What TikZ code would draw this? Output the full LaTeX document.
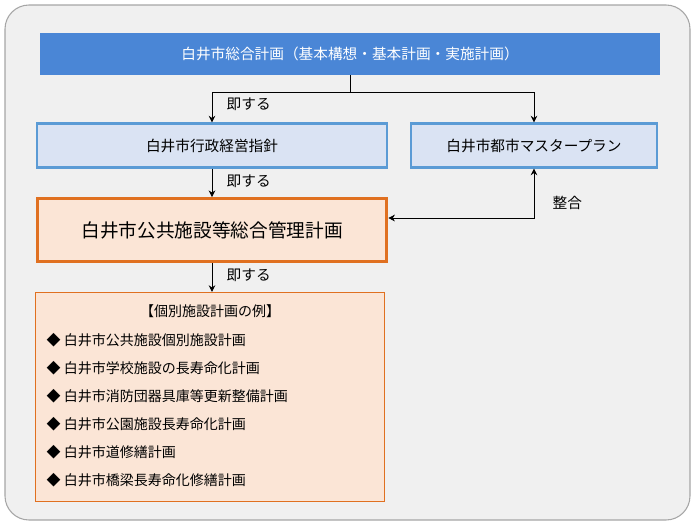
\documentclass[tikz,border=0pt]{standalone}
\usepackage{fontspec}
\setmainfont{Noto Sans CJK JP}
\usetikzlibrary{arrows.meta,positioning,calc}
\definecolor{barblue}{HTML}{4A86D6}
\definecolor{boxblue}{HTML}{DAE3F3}
\definecolor{lineblue}{HTML}{5B9BD5}
\definecolor{boxorange}{HTML}{FBE5D6}
\definecolor{lineorange}{HTML}{E07020}
\begin{document}
\begin{tikzpicture}[x=0.75pt,y=-0.75pt,
    plan/.style={draw=lineblue,line width=1.6pt,fill=boxblue,font=\fontsize{11}{13}\selectfont},
    tip/.style={-{Stealth[length=5pt,width=5pt]},line width=0.6pt},
    lbl/.style={font=\fontsize{11}{13}\selectfont,right}]
\useasboundingbox (0,0) rectangle (700,525);
% outer frame
\draw[gray!70,fill=gray!12,rounded corners=18pt,line width=0.8pt] (5,5) rectangle (690,520);
% top bar
\node[fill=barblue,minimum width=465pt,minimum height=31.5pt,text=white,font=\fontsize{11}{13}\selectfont] (sogo) at (350,54) {白井市総合計画（基本構想・基本計画・実施計画）};
% second row
\node[plan,minimum width=262pt,minimum height=33pt] (gyosei) at (212,145.5) {白井市行政経営指針};
\node[plan,minimum width=184pt,minimum height=33pt] (toshi) at (534,145.5) {白井市都市マスタープラン};
% main box
\node[draw=lineorange,line width=2.4pt,fill=boxorange,minimum width=262pt,minimum height=47pt,font=\fontsize{14}{16}\selectfont] (kokyo) at (212,230) {白井市公共施設等総合管理計画};
% list box
\node[draw=lineorange,line width=0.6pt,fill=boxorange,minimum width=262pt,minimum height=157pt] (rei) at (210,397) {};
\node[font=\fontsize{10.5}{12}\selectfont] (reititle) at (210,311) {【個別施設計画の例】};
\foreach \t [count=\i] in {白井市公共施設個別施設計画,白井市学校施設の長寿命化計画,白井市消防団器具庫等更新整備計画,白井市公園施設長寿命化計画,白井市道修繕計画,白井市橋梁長寿命化修繕計画}
  \node[anchor=west,font=\fontsize{10.5}{12}\selectfont] (item\i) at (42,{312+28*\i}) {◆ \t};
% connectors
\coordinate (split) at ($(sogo.south)+(0,17)$);
\coordinate (join) at ($(kokyo.east)+(0,-12)$);
\draw[line width=0.6pt] (sogo.south) -- (split);
\draw[tip] (split) -| (gyosei.north);
\draw[tip] (split) -| (toshi.north);
\node[lbl] at (222,104) {即する};
\draw[tip] (gyosei.south) -- (kokyo.north);
\node[lbl] at (222,181) {即する};
\draw[tip] (kokyo.south) -- (kokyo.south |- rei.north);
\node[lbl] at (222,275) {即する};
\draw[{Stealth[length=5pt,width=5pt]}-{Stealth[length=5pt,width=5pt]},line width=0.6pt] (toshi.south) |- (join);
\node[lbl] at (548,203) {整合};
\end{tikzpicture}
\end{document}
